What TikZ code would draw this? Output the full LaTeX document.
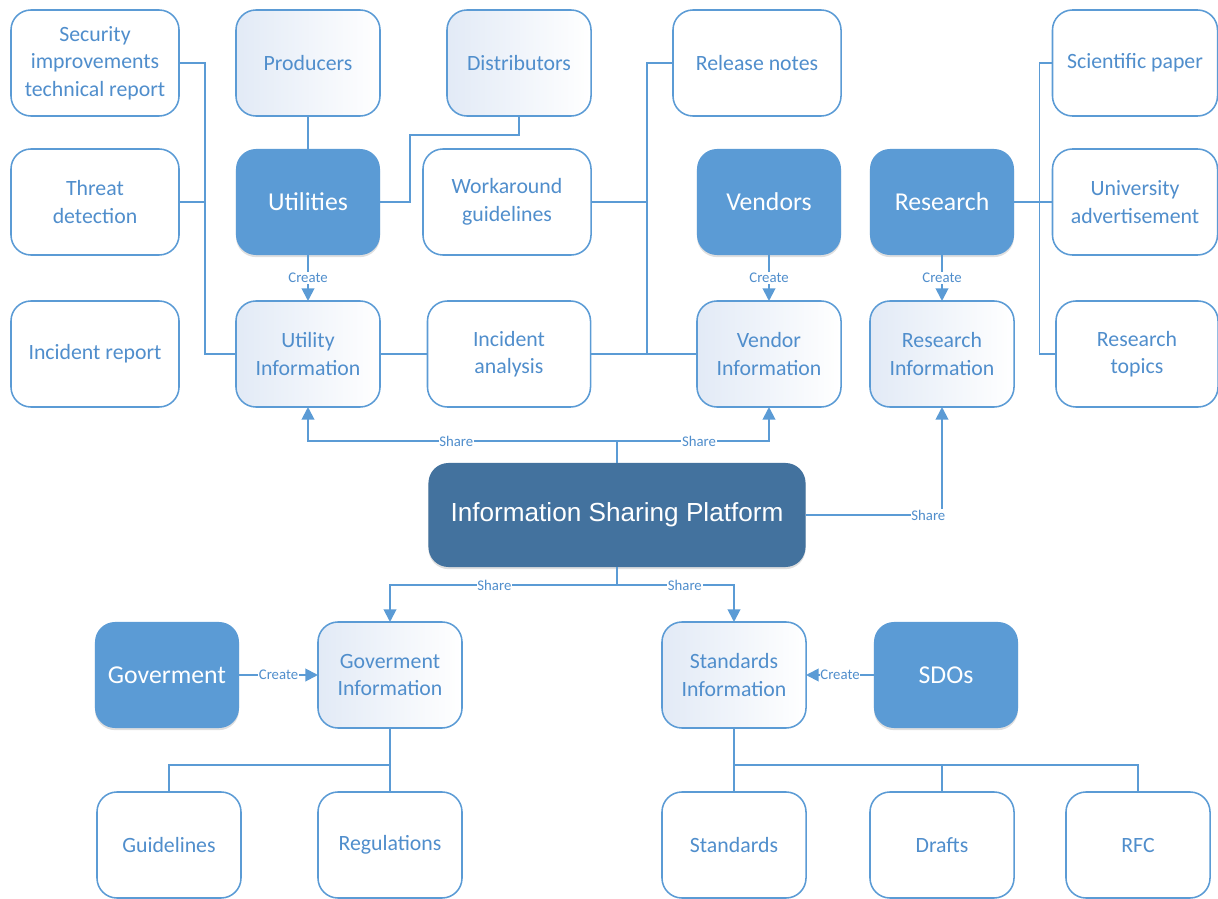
\documentclass[tikz,border=0pt]{standalone}
\usepackage{fontspec}
\setmainfont{Carlito}
\newfontfamily\platformfont{Liberation Sans}
\usetikzlibrary{arrows.meta,shadows}
\definecolor{lineblue}{RGB}{91,155,213}
\definecolor{textblue}{RGB}{80,142,204}
\definecolor{platblue}{RGB}{67,114,158}
\definecolor{gradleft}{RGB}{226,234,246}
\tikzset{>={Triangle[width=9pt,length=9pt]}}
\tikzset{
  box/.style={rounded corners=0.5cm, draw=lineblue, line width=1.1pt, align=center,
    minimum width=3.6cm, minimum height=2.65cm, inner sep=2pt, outer sep=0pt,
    font=\fontsize{15.5}{19.5}\selectfont},
  infobox/.style={box, fill=white, text=textblue},
  widebox/.style={infobox, minimum width=4.2cm},
  gradbox/.style={box, left color=gradleft, right color=white, text=textblue},
  actorbox/.style={box, draw=none, fill=lineblue, text=white,
    font=\fontsize{18.3}{22}\selectfont,
    drop shadow={shadow xshift=0pt, shadow yshift=-1.5pt, opacity=0.25}},
  platform/.style={box, draw=none, fill=platblue, text=white,
    minimum width=9.425cm, minimum height=2.6cm,
    font=\platformfont\fontsize{18.6}{22}\selectfont,
    drop shadow={shadow xshift=0pt, shadow yshift=-1.5pt, opacity=0.25}},
  link/.style={draw=lineblue, line width=1.4pt},
  tag/.style={fill=white, text=textblue, inner sep=0.5pt, font=\fontsize{10.5}{12}\selectfont}
}

\begin{document}
\begin{tikzpicture}[x=0.025cm, y=-0.025cm]

    \useasboundingbox (0,0) rectangle (1218,899);

    % Top rows
    \node[widebox] (secrep) at (95,63) {Security\\improvements\\technical report};
    \node[gradbox] (producers) at (308,63) {Producers};
    \node[gradbox] (distrib) at (519,63) {Distributors};
    \node[widebox] (relnotes) at (757,63) {Release notes};
    \node[infobox, minimum width=4.125cm] (scipaper) at (1135,63) {Scientific paper};

    \node[widebox] (threat) at (95,202) {Threat\\detection};
    \node[actorbox] (utilities) at (308,202) {Utilities};
    \node[widebox] (workaround) at (507,202) {Workaround\\guidelines};
    \node[actorbox] (vendors) at (769,202) {Vendors};
    \node[actorbox] (research) at (942,202) {Research};
    \node[infobox, minimum width=4.125cm] (univ) at (1135,202) {University\\advertisement};

    \node[widebox] (increp) at (95,354) {Incident report};
    \node[gradbox] (utilinfo) at (308,354) {Utility\\Information};
    \node[infobox, minimum width=4.075cm] (incanalysis) at (509,354) {Incident\\analysis};
    \node[gradbox] (vendinfo) at (769,354) {Vendor\\Information};
    \node[gradbox] (resinfo) at (942,354) {Research\\Information};
    \node[infobox, minimum width=4.05cm] (restopics) at (1137,354) {Research\\topics};

    % Platform
    \node[platform] (isp) at (617,515) {Information Sharing Platform};

    % Bottom rows
    \node[actorbox] (gov) at (167,675) {Goverment};
    \node[gradbox] (govinfo) at (390,675) {Goverment\\Information};
    \node[gradbox] (stdinfo) at (734,675) {Standards\\Information};
    \node[actorbox] (sdos) at (946,675) {SDOs};

    \node[infobox] (guidelines) at (169,845) {Guidelines};
    \node[infobox] (regulations) at (390,845) {Regulations};
    \node[infobox] (standards) at (734,845) {Standards};
    \node[infobox] (drafts) at (942,845) {Drafts};
    \node[infobox] (rfc) at (1138,845) {RFC};

    % Utility side
    \draw[link] (secrep.east) -- ++(26,0) |- (utilinfo.west);
    \draw[link] (threat.east) -- ++(26,0);
    \draw[link] (producers.south) -- (utilities.north);
    \coordinate (udist) at (410,135);
    \draw[link] (utilities.east) -| (udist) -| (distrib.south);
    \draw[link, ->] (utilities.south) -- node[tag] {Create} (utilinfo.north);
    \draw[link] (utilinfo.east) -- (incanalysis.west);

    % Vendor side
    \draw[link] (incanalysis.east) -- (vendinfo.west);
    \draw[link] (relnotes.west) -- ++(-26,0) |- (vendinfo.west);
    \draw[link] (workaround.east) -- ++(56,0);
    \draw[link, ->] (vendors.south) -- node[tag] {Create} (vendinfo.north);

    % Research side
    \draw[link] (research.east) -- (univ.west);
    \draw[link] (scipaper.west) -- ++(-13,0) |- (restopics.west);
    \draw[link, ->] (research.south) -- node[tag] {Create} (resinfo.north);

    % Sharing from the platform
    \draw[link] (isp.north) -- ++(0,-22) coordinate (ispup);
    \draw[link, ->] (ispup) -| node[tag, pos=0.26] {Share} (utilinfo.south);
    \draw[link, ->] (ispup) -| node[tag, pos=0.27] {Share} (vendinfo.south);
    \draw[link, ->] (isp.east) -| node[tag, pos=0.45] {Share} (resinfo.south);
    \draw[link] (isp.south) -- ++(0,18) coordinate (ispdown);
    \draw[link, ->] (ispdown) -| node[tag, pos=0.27] {Share} (govinfo.north);
    \draw[link, ->] (ispdown) -| node[tag, pos=0.29] {Share} (stdinfo.north);

    % Goverment and SDOs
    \draw[link, ->] (gov.east) -- node[tag] {Create} (govinfo.west);
    \draw[link, ->] (sdos.west) -- node[tag] {Create} (stdinfo.east);
    \draw[link] (govinfo.south) -- ++(0,37) coordinate (govdown) -| (guidelines.north);
    \draw[link] (govdown) -- (regulations.north);
    \draw[link] (stdinfo.south) -- ++(0,37) coordinate (stddown) -| (rfc.north);
    \draw[link] (stddown) -- (standards.north);
    \draw[link] (drafts.north) -- ++(0,-27);

\end{tikzpicture}
\end{document}
